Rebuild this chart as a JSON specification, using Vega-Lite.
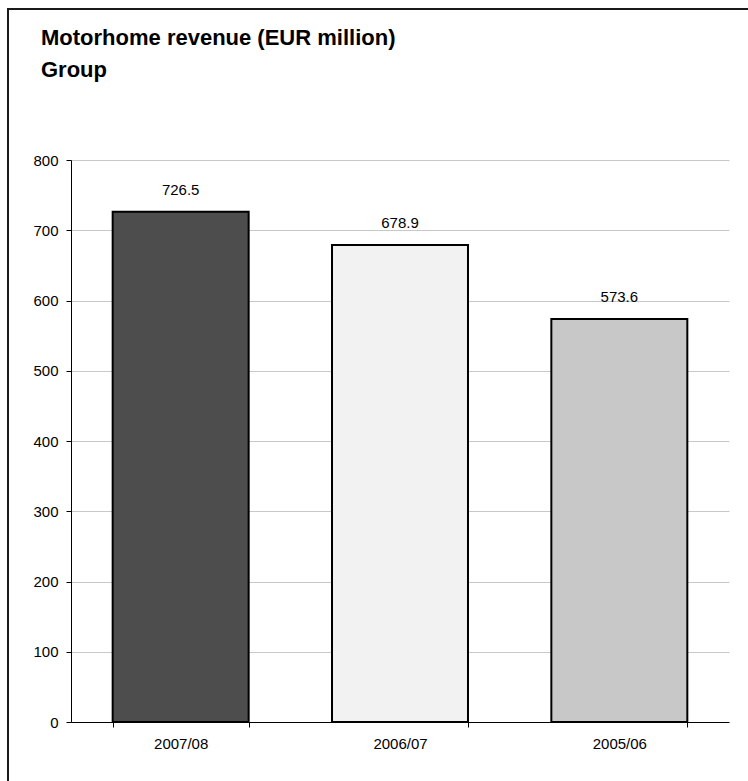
{
  "$schema": "https://vega.github.io/schema/vega-lite/v6.json",
  "autosize": {"type": "none"},
  "padding": {"left": 8, "top": 9, "right": 0, "bottom": 0},
  "width": 745,
  "height": 780,
  "background": "white",
  "title": {
    "text": ["Motorhome revenue (EUR million)", "Group"],
    "anchor": "start",
    "frame": "group",
    "orient": "top",
    "baseline": "top",
    "offset": 0,
    "dx": 33,
    "dy": 73,
    "fontSize": 22,
    "fontWeight": "bold",
    "font": "Liberation Sans",
    "color": "black",
    "lineHeight": 32
  },
  "data": {
    "values": [
      {"year": "2007/08", "revenue": 726.5},
      {"year": "2006/07", "revenue": 678.9},
      {"year": "2005/06", "revenue": 573.6}
    ]
  },
  "encoding": {
    "x": {
      "field": "year",
      "type": "nominal",
      "sort": null,
      "scale": {"range": [63, 721], "paddingInner": 0.38, "paddingOuter": 0.19},
      "axis": {
        "title": null,
        "labelAngle": 0,
        "tickBand": "extent",
        "offset": -67,
        "domainColor": "black",
        "domainWidth": 1,
        "tickColor": "black",
        "tickSize": 5,
        "labelPadding": 9,
        "labelFontSize": 15,
        "labelFont": "Liberation Sans",
        "labelColor": "black"
      }
    },
    "y": {
      "field": "revenue",
      "type": "quantitative",
      "scale": {"domain": [0, 800], "range": [713, 151], "nice": false},
      "axis": {
        "title": null,
        "values": [0, 100, 200, 300, 400, 500, 600, 700, 800],
        "offset": -63,
        "grid": true,
        "gridColor": "#c8c8c8",
        "gridWidth": 1,
        "domainColor": "black",
        "domainWidth": 1,
        "tickColor": "black",
        "tickSize": 5,
        "labelPadding": 8,
        "labelFontSize": 15,
        "labelFont": "Liberation Sans",
        "labelColor": "black"
      }
    }
  },
  "layer": [
    {
      "mark": {"type": "bar", "stroke": "black", "strokeWidth": 2},
      "encoding": {
        "color": {
          "field": "year",
          "type": "nominal",
          "scale": {"domain": ["2007/08", "2006/07", "2005/06"], "range": ["#4d4d4d", "#f2f2f2", "#c8c8c8"]},
          "legend": null
        }
      }
    },
    {
      "mark": {"type": "text", "baseline": "middle", "dy": -22, "fontSize": 15, "font": "Liberation Sans", "color": "black"},
      "encoding": {"text": {"field": "revenue", "type": "quantitative", "format": ".1f"}}
    }
  ],
  "config": {
    "view": {"stroke": "#1a1a1a", "strokeWidth": 2}
  }
}
